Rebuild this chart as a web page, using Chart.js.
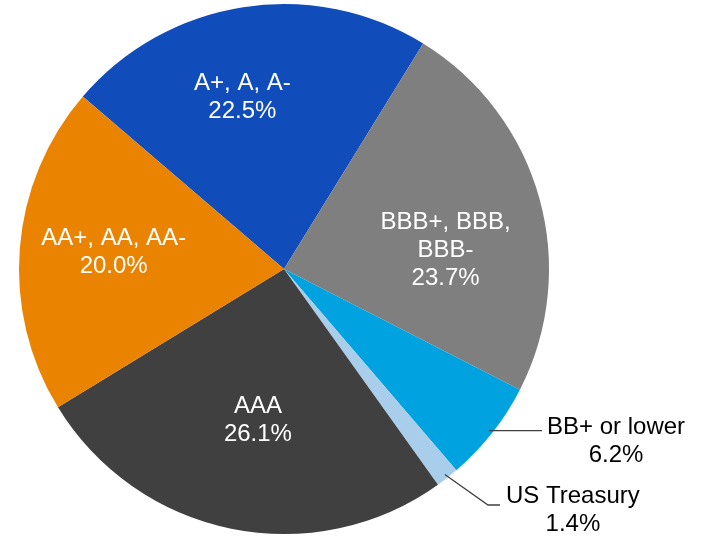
<!DOCTYPE html>
<html>
<head>
<meta charset="utf-8">
<script src="https://cdn.jsdelivr.net/npm/chart.js@4/dist/chart.umd.min.js"></script>
<style>
  html, body { margin: 0; padding: 0; background: #fff; }
  #wrap { width: 701px; height: 536px; }
</style>
</head>
<body>
<div id="wrap"><canvas id="chart" width="701" height="536"></canvas></div>
<script>
// slices, clockwise from the A+ wedge
const categories = ['A+, A, A-', 'BBB+, BBB, BBB-', 'BB+ or lower', 'US Treasury', 'AAA', 'AA+, AA, AA-'];
const shares = [22.5, 23.7, 6.2, 1.4, 26.1, 20.0];
const colors = ['#104cba', '#7f7f7f', '#00a3e0', '#a9ceec', '#404040', '#e98300'];

// label text lines per slice (last line is the percentage)
const labelLines = [
  ['A+, A, A-'],
  ['BBB+, BBB,', 'BBB-'],
  ['BB+ or lower'],
  ['US Treasury'],
  ['AAA'],
  ['AA+, AA, AA-']
];

// where the labels sit, relative to pie centre (angle deg clockwise from top, r as fraction of radius)
const labelPlace = [
  { inside: true, angle: -13.6, r: 0.668 },
  { inside: true, angle: 83.3, r: 0.614 },
  { inside: false, path: [[258, 164]], textX: 263, textY: 172 },
  { inside: false, path: [[204, 236], [216, 236]], textX: 222, textY: 241 },
  { inside: true, angle: 189.8, r: 0.578 },
  { inside: true, angle: -84.3, r: 0.646 }
];

const FONT = '24px "Liberation Sans", Arial, sans-serif';
const LINE_H = 28;

const labelPlugin = {
  id: 'sliceLabels',
  afterDraw(chart) {
    const ctx = chart.ctx;
    const meta = chart.getDatasetMeta(0);
    ctx.save();
    ctx.font = FONT;
    ctx.textBaseline = 'middle';
    meta.data.forEach((arc, i) => {
      const cx = arc.x, cy = arc.y, R = arc.outerRadius;
      const p = labelPlace[i];
      const lines = labelLines[i].concat([shares[i].toFixed(1) + '%']);
      if (p.inside) {
        const a = p.angle * Math.PI / 180;
        const x = cx + Math.sin(a) * R * p.r;
        const y = cy - Math.cos(a) * R * p.r;
        ctx.fillStyle = '#ffffff';
        ctx.textAlign = 'center';
        const top = y - (lines.length - 1) * LINE_H / 2;
        lines.forEach((t, k) => ctx.fillText(t, x, top + k * LINE_H));
      } else {
        const mid = (arc.startAngle + arc.endAngle) / 2;
        const sx = cx + Math.cos(mid) * (R - 4);
        const sy = cy + Math.sin(mid) * (R - 4);
        ctx.strokeStyle = '#404040';
        ctx.lineWidth = 1.3;
        ctx.beginPath();
        ctx.moveTo(sx, sy);
        if (p.path.length === 1) {
          ctx.lineTo(cx + p.path[0][0], sy);
        } else {
          p.path.forEach(pt => ctx.lineTo(cx + pt[0], cy + pt[1]));
        }
        ctx.stroke();
        // text block: lines centred on the widest line, left edge at textX
        const w = Math.max(...lines.map(t => ctx.measureText(t).width));
        const tx = cx + p.textX + w / 2;
        const top = cy + p.textY - (lines.length - 1) * LINE_H / 2;
        ctx.fillStyle = '#000000';
        ctx.textAlign = 'center';
        lines.forEach((t, k) => ctx.fillText(t, tx, top + k * LINE_H));
      }
    });
    ctx.restore();
  }
};

new Chart(document.getElementById('chart'), {
  type: 'pie',
  data: {
    labels: categories,
    datasets: [{
      data: shares,
      backgroundColor: colors,
      borderWidth: 0
    }]
  },
  options: {
    responsive: false,
    animation: false,
    rotation: -49.4,
    layout: { padding: { left: 19, right: 152, top: 4, bottom: 2 } },
    plugins: {
      legend: { display: false },
      tooltip: { enabled: false }
    }
  },
  plugins: [labelPlugin]
});
</script>
</body>
</html>
